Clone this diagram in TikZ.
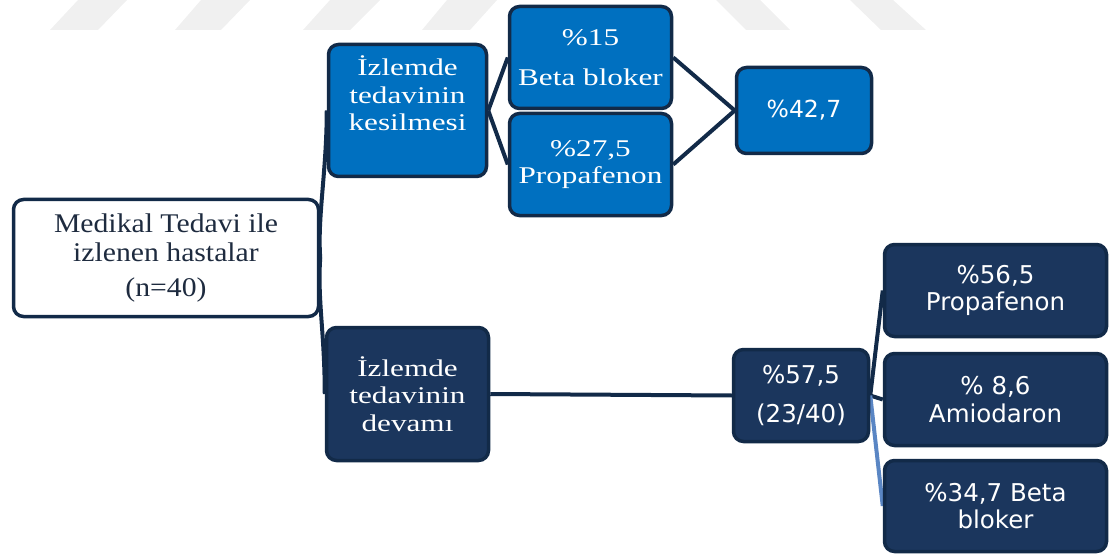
\documentclass[tikz,border=0pt]{standalone}
\usepackage{fontspec}
\usetikzlibrary{backgrounds}
\newfontfamily\serifwide[FakeStretch=1.3]{Liberation Serif}
\newfontfamily\serifroot[FakeStretch=1.1]{Liberation Serif}
\newfontfamily\sansbox{DejaVu Sans}
\definecolor{navyline}{HTML}{122A48}
\definecolor{midblue}{HTML}{0070C0}
\definecolor{darkfill}{HTML}{1B365D}
\definecolor{lightlink}{HTML}{5A86C4}
\definecolor{roottext}{HTML}{1E2B3F}
\definecolor{stripe}{HTML}{F0F0F0}
\tikzset{
  box/.style={rectangle, rounded corners=10pt, draw=navyline, line width=3.5pt,
    inner sep=0pt, align=center},
  rootbox/.style={box, fill=white, text=roottext,
    font=\serifroot\fontsize{27}{29}\selectfont},
  bluebox/.style={box, fill=midblue, text=white,
    font=\serifwide\fontsize{24}{27.5}\selectfont},
  navybox/.style={box, fill=darkfill, text=white,
    font=\serifwide\fontsize{24}{27.5}\selectfont},
  sansblue/.style={box, fill=midblue, text=white,
    font=\sansbox\fontsize{23.5}{27.5}\selectfont},
  sansnavy/.style={box, fill=darkfill, text=white,
    font=\sansbox\fontsize{24.5}{27.5}\selectfont},
  link/.style={draw=navyline, line width=4pt},
  lightedge/.style={draw=lightlink, line width=4pt},
  watermark/.style={fill=stripe, draw=none}
}
\begin{document}
\begin{tikzpicture}[x=1pt, y=-1pt]
\useasboundingbox (0,0) rectangle (1113,556);

% faint stripes along the top edge
\fill[watermark] (50,30) -- (98,30) -- (127,0) -- (78,0) -- cycle;
\fill[watermark] (175,30) -- (221,30) -- (250,0) -- (201,0) -- cycle;
\fill[watermark] (303,30) -- (350,30) -- (380,0) -- (330,0) -- cycle;
\fill[watermark] (422,30) -- (470,30) -- (497,0) -- (447,0) -- cycle;
\fill[watermark] (716,0) -- (760,0) -- (790,30) -- (746,30) -- cycle;
\fill[watermark] (850,0) -- (893,0) -- (926,30) -- (881,30) -- cycle;

% boxes
\node[rootbox, minimum width=305pt, minimum height=117pt] (root) at (166,258)
  {Medikal Tedavi ile\\izlenen hastalar\\[6pt](n=40)};
\node[bluebox, minimum width=158pt, minimum height=132pt] (stop) at (407.5,110.5)
  {İzlemde\\tedavinin\\kesilmesi\\[6.5pt]\mbox{}};
\node[bluebox, minimum width=162pt, minimum height=102pt] (beta) at (590.5,57.5)
  {\%15\\[12.5pt]Beta bloker};
\node[bluebox, minimum width=162pt, minimum height=102pt] (prop) at (590.5,164.5)
  {\%27,5\\Propafenon};
\node[sansblue, minimum width=135pt, minimum height=86pt] (sum) at (804,110.5)
  {\%42,7};
\node[navybox, minimum width=162pt, minimum height=133pt] (cont) at (407.5,394)
  {İzlemde\\tedavinin\\devamı};
\node[sansnavy, minimum width=135pt, minimum height=92pt] (share) at (801,395.5)
  {\%57,5\\[11pt](23/40)};
\node[sansnavy, minimum width=222pt, minimum height=92pt] (propc) at (995.5,290.5)
  {\%56,5\\Propafenon};
\node[sansnavy, minimum width=222pt, minimum height=92pt] (amio) at (995.5,399.5)
  {\% 8,6\\Amiodaron};
\node[sansnavy, minimum width=222pt, minimum height=91pt] (betac) at (995.5,506)
  {\%34,7 Beta\\bloker};

% connectors, drawn beneath the boxes
\begin{scope}[on background layer]
  \draw[link] (root.east) .. controls +(-3,-40) and +(0,60) .. (stop.west);
  \draw[link] (root.east) .. controls +(-3,40) and +(0,-60) .. (cont.west);
  \draw[link] (stop.east) -- (beta.west);
  \draw[link] (stop.east) -- (prop.west);
  \draw[link] (beta.east) -- (sum.west);
  \draw[link] (prop.east) -- (sum.west);
  \draw[link] (cont.east) -- (share.west);
  \draw[link] (share.east) -- (propc.west);
  \draw[link] (share.east) -- (amio.west);
  \draw[lightedge] (share.east) -- (betac.west);
\end{scope}
\end{tikzpicture}
\end{document}
